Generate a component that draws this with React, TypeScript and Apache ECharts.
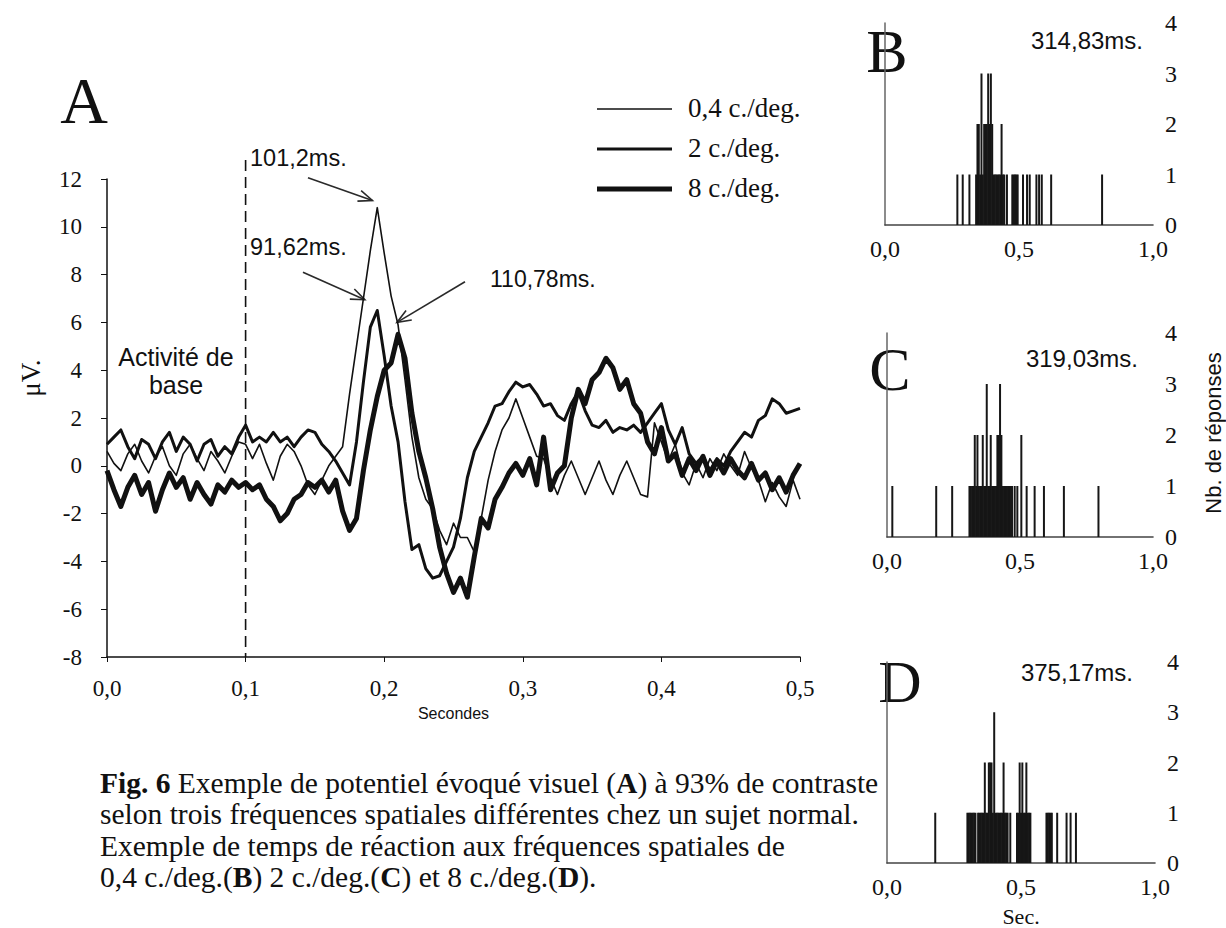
import React, { useEffect, useRef } from "react";
import * as echarts from "echarts";

const SERIF = '"Liberation Serif", "Times New Roman", serif';
const SANS = '"Liberation Sans", Arial, sans-serif';
const INK = "#111111";

// ---------- Panel A : visual evoked potentials (µV), sampled every 5 ms ----------
const SAMPLE_STEP_S = 0.005;
const seriesNames = ["0,4 c./deg.", "2 c./deg.", "8 c./deg."];

const thinUV = [
  0.6, 0.1, -0.2, 0.5, 0.9, 0.2, -0.3, 0.4, 0.8, 0.0,
  -0.4, 0.5, 0.9, 0.3, -0.2, 0.6, 0.2, -0.3, 0.4, 1.0,
  0.9, 0.3, 0.9, 0.1, -0.6, 0.4, 0.9, 0.6, 0.0, -0.8,
  -1.2, -0.6, 0.0, 0.4, 0.8, 3.0, 5.0, 7.0, 9.0, 10.8,
  8.9, 7.1, 5.9, 3.6, 1.2, -0.5, -1.4, -1.8, -2.7, -3.3,
  -2.4, -3.0, -3.0, -3.6, -2.2, -0.6, 0.6, 1.5, 2.0, 2.8,
  2.0, 1.2, 0.4, 0.3, -0.5, -1.2, -0.4, 0.2, -0.5, -1.2,
  -0.5, 0.2, -0.6, -1.2, -0.4, 0.2, -0.5, -1.2, -1.3, 1.8,
  1.0, 0.2, 0.9, -0.3, -0.8, 0.1, -0.5, 0.3, -0.2, 0.5,
  0.0, -0.4, 0.6, -0.1, -0.6, -1.5, -0.7, -1.3, -1.7, -0.6,
  -1.4,
];

const mediumUV = [
  0.9, 1.2, 1.5, 0.8, 0.3, 1.1, 0.9, 0.3, 1.0, 1.4,
  0.6, 1.2, 0.9, 0.2, 0.9, 1.1, 0.4, 0.8, 0.5, 1.2,
  1.7, 1.0, 1.2, 1.0, 1.4, 1.0, 1.2, 0.8, 1.2, 1.5,
  1.4, 0.9, 0.6, 0.2, -0.3, -0.8, 1.0, 3.5, 5.8, 6.5,
  4.6, 2.5, 1.0, -1.5, -3.5, -3.3, -4.3, -4.7, -4.6, -4.0,
  -3.4, -2.2, -0.5, 0.6, 1.2, 1.8, 2.5, 2.6, 3.1, 3.5,
  3.3, 3.4, 3.0, 2.5, 2.6, 2.1, 1.9, 2.6, 3.1, 2.3,
  1.7, 1.6, 1.9, 1.4, 1.6, 1.5, 1.7, 1.4, 1.8, 2.2,
  2.6, 1.5, 0.9, 1.6, 0.5, 0.1, 0.4, -0.2, 0.3, 0.0,
  0.6, 1.0, 1.4, 1.2, 1.9, 2.1, 2.8, 2.6, 2.2, 2.3,
  2.4,
];

const thickUV = [
  -0.2, -1.0, -1.7, -0.9, -0.4, -1.2, -0.7, -1.9, -1.0, -0.3,
  -0.9, -0.5, -1.4, -0.7, -1.2, -1.6, -0.8, -1.1, -0.6, -0.9,
  -0.7, -1.0, -0.8, -1.4, -1.7, -2.3, -2.0, -1.4, -1.2, -0.7,
  -0.9, -0.6, -1.1, -0.6, -1.9, -2.7, -2.2, -0.2, 1.5, 2.9,
  4.0, 4.3, 5.5, 4.5, 2.2, 0.6, -0.5, -1.8, -3.4, -4.5,
  -5.3, -4.7, -5.5, -3.8, -2.2, -2.6, -1.4, -0.9, -0.3, 0.1,
  -0.4, 0.3, -0.8, 1.2, -1.0, -0.3, 0.0, 2.0, 3.2, 2.6,
  3.6, 3.9, 4.5, 4.1, 3.2, 3.6, 2.6, 2.2, 1.0, 0.5,
  1.6, 0.2, 0.5, -0.4, 0.3, -0.2, 0.4, -0.4, 0.2, -0.3,
  0.3, -0.2, -0.5, 0.1, -0.6, -0.3, -1.0, -0.5, -1.1, -0.4,
  0.1,
];

const peakLabels = ["101,2ms.", "91,62ms.", "110,78ms."];

// ---------- Panels B, C, D : reaction-time histograms (5 ms bins) ----------
const histBTimes = [
  0.27, 0.29, 0.315, 0.34, 0.345, 0.35, 0.355, 0.36, 0.365, 0.37, 0.375, 0.38,
  0.385, 0.39, 0.395, 0.4, 0.405, 0.41, 0.415, 0.42, 0.425, 0.43, 0.435, 0.44,
  0.445, 0.455, 0.475, 0.48, 0.485, 0.49, 0.495, 0.515, 0.53, 0.54, 0.565,
  0.575, 0.585, 0.62, 0.81,
];
const histBCounts = [
  1, 1, 1, 1, 2, 2, 1, 3, 1, 2, 2, 2,
  3, 2, 3, 2, 1, 1, 1, 1, 1, 1, 2, 1,
  1, 1, 1, 1, 1, 1, 1, 1, 1, 1, 1,
  1, 1, 1, 1,
];

const histCTimes = [
  0.02, 0.185, 0.245, 0.31, 0.315, 0.32, 0.325, 0.33, 0.335, 0.34, 0.345, 0.35,
  0.355, 0.36, 0.365, 0.37, 0.375, 0.38, 0.385, 0.39, 0.395, 0.4, 0.405, 0.41,
  0.415, 0.42, 0.425, 0.43, 0.435, 0.44, 0.445, 0.45, 0.455, 0.46, 0.465, 0.47,
  0.48, 0.49, 0.505, 0.525, 0.555, 0.59, 0.665, 0.795,
];
const histCCounts = [
  1, 1, 1, 1, 1, 1, 1, 2, 1, 2, 1, 1,
  1, 2, 1, 1, 3, 1, 1, 2, 1, 1, 1, 1,
  2, 2, 3, 2, 1, 1, 1, 1, 1, 1, 1, 1,
  1, 1, 2, 1, 1, 1, 1, 1,
];

const histDTimes = [
  0.18, 0.3, 0.305, 0.31, 0.315, 0.32, 0.325, 0.33, 0.34, 0.345, 0.35, 0.355,
  0.36, 0.365, 0.37, 0.375, 0.38, 0.385, 0.39, 0.395, 0.4, 0.405, 0.41, 0.415,
  0.42, 0.425, 0.43, 0.435, 0.44, 0.445, 0.45, 0.46, 0.485, 0.49, 0.495, 0.5,
  0.505, 0.51, 0.515, 0.52, 0.525, 0.53, 0.535, 0.595, 0.6, 0.605, 0.61, 0.615,
  0.635, 0.67, 0.685, 0.705,
];
const histDCounts = [
  1, 1, 1, 1, 1, 1, 1, 1, 1, 1, 1, 1,
  1, 2, 1, 1, 2, 2, 2, 1, 3, 1, 1, 1,
  1, 1, 1, 2, 1, 1, 1, 1, 1, 1, 2, 1,
  2, 1, 1, 2, 1, 1, 1, 1, 1, 1, 1, 1,
  1, 1, 1, 1,
];

const panelLetters = ["A", "B", "C", "D"];
const meanRTLabels = ["314,83ms.", "319,03ms.", "375,17ms."];

const comma = (v: number, d: number) => v.toFixed(d).replace(".", ",");

export default function App() {
  const ref = useRef<HTMLDivElement>(null);

  useEffect(() => {
    if (!ref.current) return;
    const chart = echarts.init(ref.current, null, { renderer: "svg" });

    const times = thinUV.map((_, i) => +(i * SAMPLE_STEP_S).toFixed(3));
    const lineWidths = [1.6, 3.0, 5.0];
    const lineData = [thinUV, mediumUV, thickUV];

    const histTimes = [histBTimes, histCTimes, histDTimes];
    const histCounts = [histBCounts, histCCounts, histDCounts];

    const histX = (gi: number, extra: any = {}) => ({
      gridIndex: gi,
      type: "value",
      min: 0,
      max: 1,
      interval: 0.5,
      axisLine: { onZero: false, lineStyle: { color: "#444", width: 1.6 } },
      axisTick: { show: false },
      splitLine: { show: false },
      axisLabel: {
        formatter: (v: number) => comma(v, 1),
        fontFamily: SERIF,
        fontSize: 24,
        color: INK,
        margin: 12,
      },
      ...extra,
    });
    const histY = (gi: number) => ({
      gridIndex: gi,
      type: "value",
      position: "right",
      min: 0,
      max: 4,
      interval: 1,
      axisLine: { show: true, lineStyle: { color: "#666", width: 1.5 } },
      axisTick: { show: false },
      splitLine: { show: false },
      axisLabel: { fontFamily: SERIF, fontSize: 24, color: INK, margin: 12 },
    });

    chart.setOption({
      animation: false,
      backgroundColor: "#ffffff",
      grid: [
        { left: 107, top: 179, width: 693, height: 478 },
        { left: 885, top: 23, width: 268, height: 202 },
        { left: 887, top: 333, width: 266, height: 204 },
        { left: 887, top: 662, width: 268, height: 204 },
      ],
      xAxis: [
        {
          gridIndex: 0,
          type: "value",
          min: 0,
          max: 0.5,
          interval: 0.1,
          axisLine: { onZero: false, lineStyle: { color: INK, width: 1.5 } },
          axisTick: { show: true, length: 5, lineStyle: { color: INK } },
          splitLine: { show: false },
          axisLabel: {
            formatter: (v: number) => comma(v, 1),
            fontFamily: SERIF,
            fontSize: 23,
            color: INK,
            margin: 20,
          },
          name: "Secondes",
          nameLocation: "middle",
          nameGap: 48,
          nameTextStyle: { fontFamily: SANS, fontSize: 16, color: INK },
        },
        histX(1),
        histX(2),
        histX(3, {
          name: "Sec.",
          nameLocation: "middle",
          nameGap: 42,
          nameTextStyle: { fontFamily: SERIF, fontSize: 22, color: INK },
        }),
      ],
      yAxis: [
        {
          gridIndex: 0,
          type: "value",
          min: -8,
          max: 12,
          interval: 2,
          axisLine: { show: true, lineStyle: { color: INK, width: 1.5 } },
          axisTick: { show: true, length: 6, lineStyle: { color: INK } },
          splitLine: { show: false },
          axisLabel: { fontFamily: SERIF, fontSize: 23, color: INK, margin: 25 },
        },
        histY(1),
        histY(2),
        histY(3),
      ],
      series: [
        ...seriesNames.map((name, k) => ({
          name,
          type: "line",
          xAxisIndex: 0,
          yAxisIndex: 0,
          symbol: "none",
          data: times.map((t, i) => [t, lineData[k][i]]),
          lineStyle: { width: lineWidths[k], color: INK, join: "round" },
          itemStyle: { color: INK },
          z: 3 + k,
          silent: true,
        })),
        ...[0, 1, 2].map((h) => ({
          name: "hist" + panelLetters[h + 1],
          type: "bar",
          xAxisIndex: h + 1,
          yAxisIndex: h + 1,
          barWidth: 2,
          data: histTimes[h].map((t, i) => [t, histCounts[h][i]]),
          itemStyle: { color: "#161616" },
          silent: true,
        })),
      ],
    });

    const px = (p: number[]) =>
      chart.convertToPixel({ gridIndex: 0 } as any, p) as unknown as number[];

    const arrowStroke = { stroke: "#2a2a2a", lineWidth: 1.6, fill: null };
    const arrow = (from: number[], to: number[]) => {
      const [x1, y1] = px(from);
      const [x2, y2] = px(to);
      const ang = Math.atan2(y2 - y1, x2 - x1);
      const L = 15;
      const s = 0.38;
      const h1 = [x2 - L * Math.cos(ang - s), y2 - L * Math.sin(ang - s)];
      const h2 = [x2 - L * Math.cos(ang + s), y2 - L * Math.sin(ang + s)];
      return [
        { type: "line", silent: true, shape: { x1, y1, x2, y2 }, style: arrowStroke },
        { type: "polyline", silent: true, shape: { points: [h1, [x2, y2], h2] }, style: arrowStroke },
      ];
    };

    const dTop = px([0.1, 12.8]);
    const dBot = px([0.1, -8]);

    const txt = (
      text: string,
      x: number,
      y: number,
      font: string,
      size: number,
      align = "left",
      extra: any = {}
    ) => ({
      type: "text",
      silent: true,
      x,
      y,
      style: { text, fontFamily: font, fontSize: size, fill: INK, align, verticalAlign: "middle", ...extra },
    });

    // legend drawn as line samples + labels
    const legendRows = [109, 149, 189];
    const legendEls: any[] = [];
    seriesNames.forEach((n, i) => {
      legendEls.push({
        type: "line",
        silent: true,
        shape: { x1: 597, y1: legendRows[i], x2: 672, y2: legendRows[i] },
        style: { stroke: INK, lineWidth: lineWidths[i] },
      });
      legendEls.push(txt(n, 688, legendRows[i] - 1, SERIF, 27));
    });

    const captionRich = { b: { fontWeight: "bold", fontFamily: SERIF, fontSize: 29.5, lineHeight: 31.5 } };
    const caption =
      "{b|Fig. 6} Exemple de potentiel évoqué visuel ({b|A}) à 93% de contraste\n" +
      "selon trois fréquences spatiales différentes chez un sujet normal.\n" +
      "Exemple de temps de réaction aux fréquences spatiales de\n" +
      "0,4 c./deg.({b|B}) 2 c./deg.({b|C}) et 8 c./deg.({b|D}).";

    chart.setOption({
      graphic: [
        {
          type: "line",
          silent: true,
          shape: { x1: dTop[0], y1: dTop[1], x2: dBot[0], y2: dBot[1] },
          style: { stroke: INK, lineWidth: 1.6, lineDash: [11, 6] },
        },
        ...arrow([0.145, 12.05], [0.1915, 11.1]),
        ...arrow([0.1414, 8.1], [0.186, 6.95]),
        ...arrow([0.2583, 7.7], [0.2092, 6.0]),
        ...legendEls,
        txt(peakLabels[0], 250, 158, SANS, 23.5),
        txt(peakLabels[1], 250, 247, SANS, 23.5),
        txt(peakLabels[2], 490, 279, SANS, 23),
        txt("Activité de\nbase", 176, 371, SANS, 25, "center", { lineHeight: 28 }),
        {
          type: "text",
          silent: true,
          x: 31,
          y: 378,
          rotation: Math.PI / 2,
          style: { text: "μV.", fontFamily: SERIF, fontSize: 27, fill: INK, align: "center", verticalAlign: "middle" },
        },
        {
          type: "text",
          silent: true,
          x: 1213,
          y: 433,
          rotation: Math.PI / 2,
          style: {
            text: "Nb. de réponses",
            fontFamily: SANS,
            fontSize: 22,
            fill: INK,
            align: "center",
            verticalAlign: "middle",
          },
        },
        txt(panelLetters[0], 84, 100, SERIF, 66, "center"),
        txt(panelLetters[1], 887, 51, SERIF, 62, "center"),
        txt(panelLetters[2], 890, 369, SERIF, 62, "center"),
        txt(panelLetters[3], 900, 682, SERIF, 60, "center"),
        txt(meanRTLabels[0], 1143, 40, SANS, 24, "right"),
        txt(meanRTLabels[1], 1138, 358, SANS, 24, "right"),
        txt(meanRTLabels[2], 1133, 672, SANS, 24, "right"),
        {
          type: "text",
          silent: true,
          x: 100,
          y: 767,
          style: {
            text: caption,
            rich: captionRich,
            fontFamily: SERIF,
            fontSize: 29.5,
            lineHeight: 31.5,
            fill: INK,
            align: "left",
            verticalAlign: "top",
          },
        },
      ],
    });

    return () => chart.dispose();
  }, []);

  return (
    <div
      ref={ref}
      style={{ position: "absolute", left: 0, top: 0, width: 1226, height: 928, background: "#fff" }}
    />
  );
}
